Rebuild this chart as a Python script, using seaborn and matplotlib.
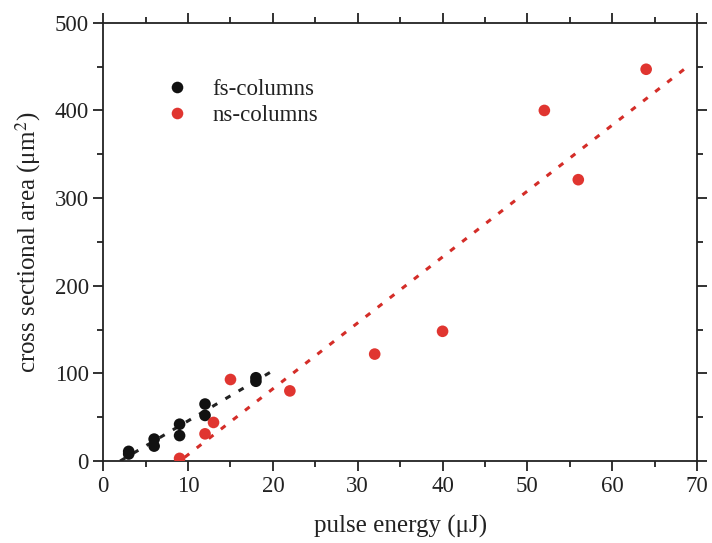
import numpy as np
import pandas as pd
import seaborn as sns
import matplotlib.pyplot as plt
from matplotlib.ticker import MultipleLocator

# Données
fs_energy = [3, 3, 6, 6, 9, 9, 12, 12, 18, 18]
fs_area = [8, 11, 25, 17, 42, 29, 65, 52, 95, 91]
ns_energy = [9, 12, 13, 15, 22, 32, 40, 52, 56, 64]
ns_area = [3, 31, 44, 93, 80, 122, 148, 400, 321, 447]

# Domaine des droites d'ajustement
fs_fit_range = [2.0, 20.0]
ns_fit_range = [9.6, 68.6]

df = pd.DataFrame({
    'energy': fs_energy + ns_energy,
    'area': fs_area + ns_area,
    'type': ['fs-columns'] * len(fs_energy) + ['ns-columns'] * len(ns_energy),
})

sns.set_theme(style='ticks')
plt.rcParams['font.family'] = ['Liberation Serif', 'DejaVu Serif']
plt.rcParams['mathtext.fontset'] = 'stix'

fig = plt.figure(figsize=(7.12, 5.43), dpi=100)
ax = fig.add_axes([0.145, 0.151, 0.834, 0.807])

colors = {'fs-columns': '#111111', 'ns-columns': '#e03530'}

# Droites d'ajustement (moindres carrés)
for x, y, rng, c in [(fs_energy, fs_area, fs_fit_range, '#222222'),
                     (ns_energy, ns_area, ns_fit_range, '#d42d28')]:
    p = np.polyfit(x, y, 1)
    xx = np.array(rng)
    ax.plot(xx, np.polyval(p, xx), color=c, lw=2.2, ls=(0, (1.9, 3.1)), zorder=1)

sns.scatterplot(data=df, x='energy', y='area', hue='type', palette=colors,
                s=70, edgecolor='none', ax=ax, zorder=3)

ax.set_xlim(0, 70)
ax.set_ylim(0, 500)
ax.xaxis.set_major_locator(MultipleLocator(10))
ax.xaxis.set_minor_locator(MultipleLocator(5))
ax.yaxis.set_major_locator(MultipleLocator(100))
ax.yaxis.set_minor_locator(MultipleLocator(50))
ax.tick_params(which='both', direction='out', top=True, right=True,
               colors='#222222', labelsize=16.5, width=1.3)
ax.tick_params(which='major', length=7)
ax.tick_params(which='minor', length=4)
for s in ax.spines.values():
    s.set_linewidth(1.3)
    s.set_color('#222222')

ax.set_xlabel('pulse energy (μJ)', fontsize=18, labelpad=13, color='#222222')
ax.set_ylabel('cross sectional area (μm$^2$)', fontsize=18, labelpad=8, color='#222222')

leg = ax.legend(loc='upper left', bbox_to_anchor=(0.0705, 0.918), frameon=False,
                fontsize=16.5, handlelength=1.0, handletextpad=1.05,
                labelspacing=0.18, borderpad=0.4)
for t in leg.get_texts():
    t.set_color('#222222')

fig.savefig('out.png', dpi=100)
